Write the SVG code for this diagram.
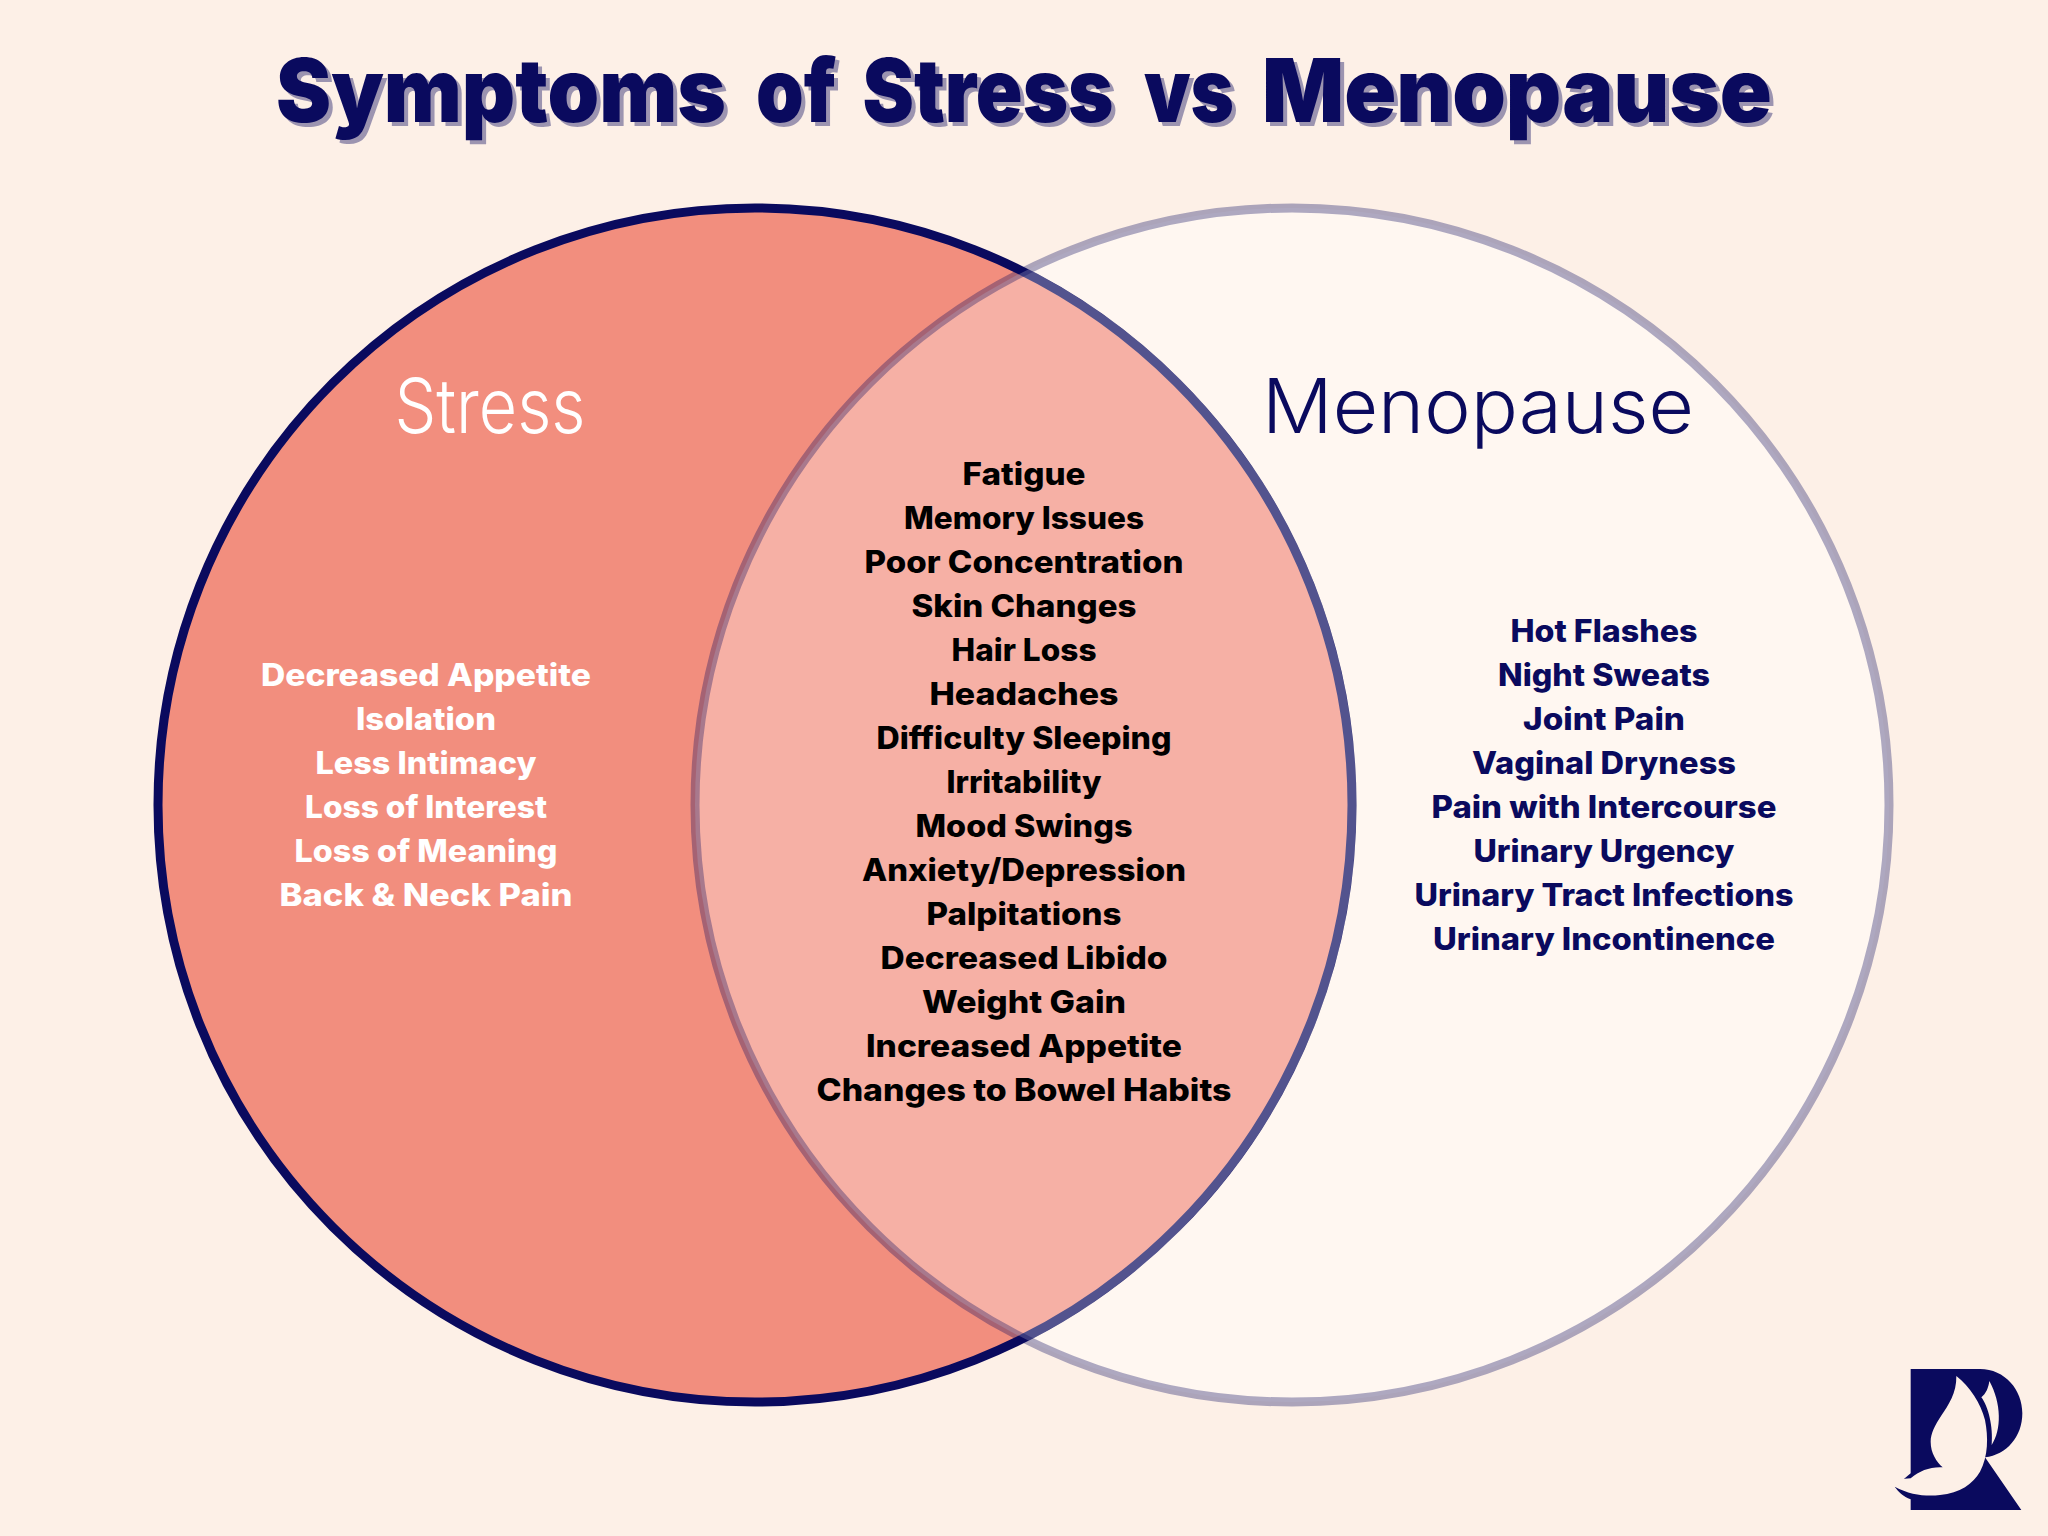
<svg xmlns="http://www.w3.org/2000/svg" width="2048" height="1536" viewBox="0 0 2048 1536">
<style>
text{font-family:Inter,"Liberation Sans",sans-serif;text-anchor:middle}
.t{font-size:88px;font-weight:900}
.h{font-size:76px;font-weight:300}
.l{font-size:31px;font-weight:800}
</style>
<defs>
<clipPath id="left-clip"><circle cx="755" cy="805" r="601.5"/></clipPath>
<g id="title-words">
<text class="t" x="501" y="122" textLength="450" lengthAdjust="spacingAndGlyphs">Symptoms</text>
<text class="t" x="796" y="122" textLength="80" lengthAdjust="spacingAndGlyphs">of</text>
<text class="t" x="988" y="122" textLength="251" lengthAdjust="spacingAndGlyphs">Stress</text>
<text class="t" x="1189" y="122" textLength="90" lengthAdjust="spacingAndGlyphs">vs</text>
<text class="t" x="1517" y="122" textLength="510" lengthAdjust="spacingAndGlyphs">Menopause</text>
</g>
</defs>
<rect width="2048" height="1536" fill="#fdf0e7"/>
<circle cx="1292" cy="805" r="597" fill="#fff7f1"/>
<g id="stress-circle"><circle cx="755" cy="805" r="597" fill="#f28e7e" stroke="#0a0a5e" stroke-width="9"/></g>
<g id="menopause-circle"><circle cx="1292" cy="805" r="597" fill="#fff" fill-opacity=".3" clip-path="url(#left-clip)"/><circle cx="1292" cy="805" r="597" fill="none" stroke="#0a0a5e" stroke-opacity=".33" stroke-width="9"/></g>
<g id="title"><use href="#title-words" x="4" y="4" fill="#0a0a5e" fill-opacity=".4"/><use href="#title-words" fill="#0a0a5e"/></g>
<g id="stress-labels" fill="#fff">
<text class="h" x="490" y="433" textLength="191" lengthAdjust="spacingAndGlyphs">Stress</text>
<text class="l" x="426" y="686" textLength="330" lengthAdjust="spacingAndGlyphs">Decreased Appetite</text>
<text class="l" x="426" y="730" textLength="140" lengthAdjust="spacingAndGlyphs">Isolation</text>
<text class="l" x="426" y="774" textLength="221" lengthAdjust="spacingAndGlyphs">Less Intimacy</text>
<text class="l" x="426" y="818" textLength="242" lengthAdjust="spacingAndGlyphs">Loss of Interest</text>
<text class="l" x="426" y="862" textLength="263" lengthAdjust="spacingAndGlyphs">Loss of Meaning</text>
<text class="l" x="426" y="906" textLength="293" lengthAdjust="spacingAndGlyphs">Back &amp; Neck Pain</text>
</g>
<g id="menopause-labels" fill="#0a0a5e">
<text class="h" x="1478" y="433" textLength="432" lengthAdjust="spacingAndGlyphs">Menopause</text>
<text class="l" x="1604" y="642" textLength="187" lengthAdjust="spacingAndGlyphs">Hot Flashes</text>
<text class="l" x="1604" y="686" textLength="212" lengthAdjust="spacingAndGlyphs">Night Sweats</text>
<text class="l" x="1604" y="730" textLength="162" lengthAdjust="spacingAndGlyphs">Joint Pain</text>
<text class="l" x="1604" y="774" textLength="264" lengthAdjust="spacingAndGlyphs">Vaginal Dryness</text>
<text class="l" x="1604" y="818" textLength="345" lengthAdjust="spacingAndGlyphs">Pain with Intercourse</text>
<text class="l" x="1604" y="862" textLength="261" lengthAdjust="spacingAndGlyphs">Urinary Urgency</text>
<text class="l" x="1604" y="906" textLength="379" lengthAdjust="spacingAndGlyphs">Urinary Tract Infections</text>
<text class="l" x="1604" y="950" textLength="342" lengthAdjust="spacingAndGlyphs">Urinary Incontinence</text>
</g>
<g id="shared-labels" fill="#000">
<text class="l" x="1024" y="485" textLength="123" lengthAdjust="spacingAndGlyphs">Fatigue</text>
<text class="l" x="1024" y="529" textLength="240" lengthAdjust="spacingAndGlyphs">Memory Issues</text>
<text class="l" x="1024" y="573" textLength="319" lengthAdjust="spacingAndGlyphs">Poor Concentration</text>
<text class="l" x="1024" y="617" textLength="225" lengthAdjust="spacingAndGlyphs">Skin Changes</text>
<text class="l" x="1024" y="661" textLength="145" lengthAdjust="spacingAndGlyphs">Hair Loss</text>
<text class="l" x="1024" y="705" textLength="189" lengthAdjust="spacingAndGlyphs">Headaches</text>
<text class="l" x="1024" y="749" textLength="295" lengthAdjust="spacingAndGlyphs">Difficulty Sleeping</text>
<text class="l" x="1024" y="793" textLength="155" lengthAdjust="spacingAndGlyphs">Irritability</text>
<text class="l" x="1024" y="837" textLength="217" lengthAdjust="spacingAndGlyphs">Mood Swings</text>
<text class="l" x="1024" y="881" textLength="324" lengthAdjust="spacingAndGlyphs">Anxiety/Depression</text>
<text class="l" x="1024" y="925" textLength="195" lengthAdjust="spacingAndGlyphs">Palpitations</text>
<text class="l" x="1024" y="969" textLength="287" lengthAdjust="spacingAndGlyphs">Decreased Libido</text>
<text class="l" x="1024" y="1013" textLength="204" lengthAdjust="spacingAndGlyphs">Weight Gain</text>
<text class="l" x="1024" y="1057" textLength="316" lengthAdjust="spacingAndGlyphs">Increased Appetite</text>
<text class="l" x="1024" y="1101" textLength="415" lengthAdjust="spacingAndGlyphs">Changes to Bowel Habits</text>
</g>
<g id="logo" transform="translate(1860 1340) scale(.33333)">
<path fill="#0a0a5e" d="M152 87H360C435 87 487 150 487 220C487 290 440 345 375 352L484 510H152V478C130 470 115 455 104 440L152 400Z"/>
<path fill="#fdf0e7" d="M289 108C290 160 265 195 245 225C225 255 212 280 212 305C212 340 230 365 248 382C210 380 180 392 152 415L90 420V445L104 440C150 465 200 470 240 465C300 460 340 430 360 395C385 350 385 290 375 240C362 190 330 140 289 108Z"/>
<path fill="#fdf0e7" d="M388 123C385 145 378 160 364 172C385 200 400 260 395 315C425 270 425 190 388 123Z"/>
</g>
</svg>
